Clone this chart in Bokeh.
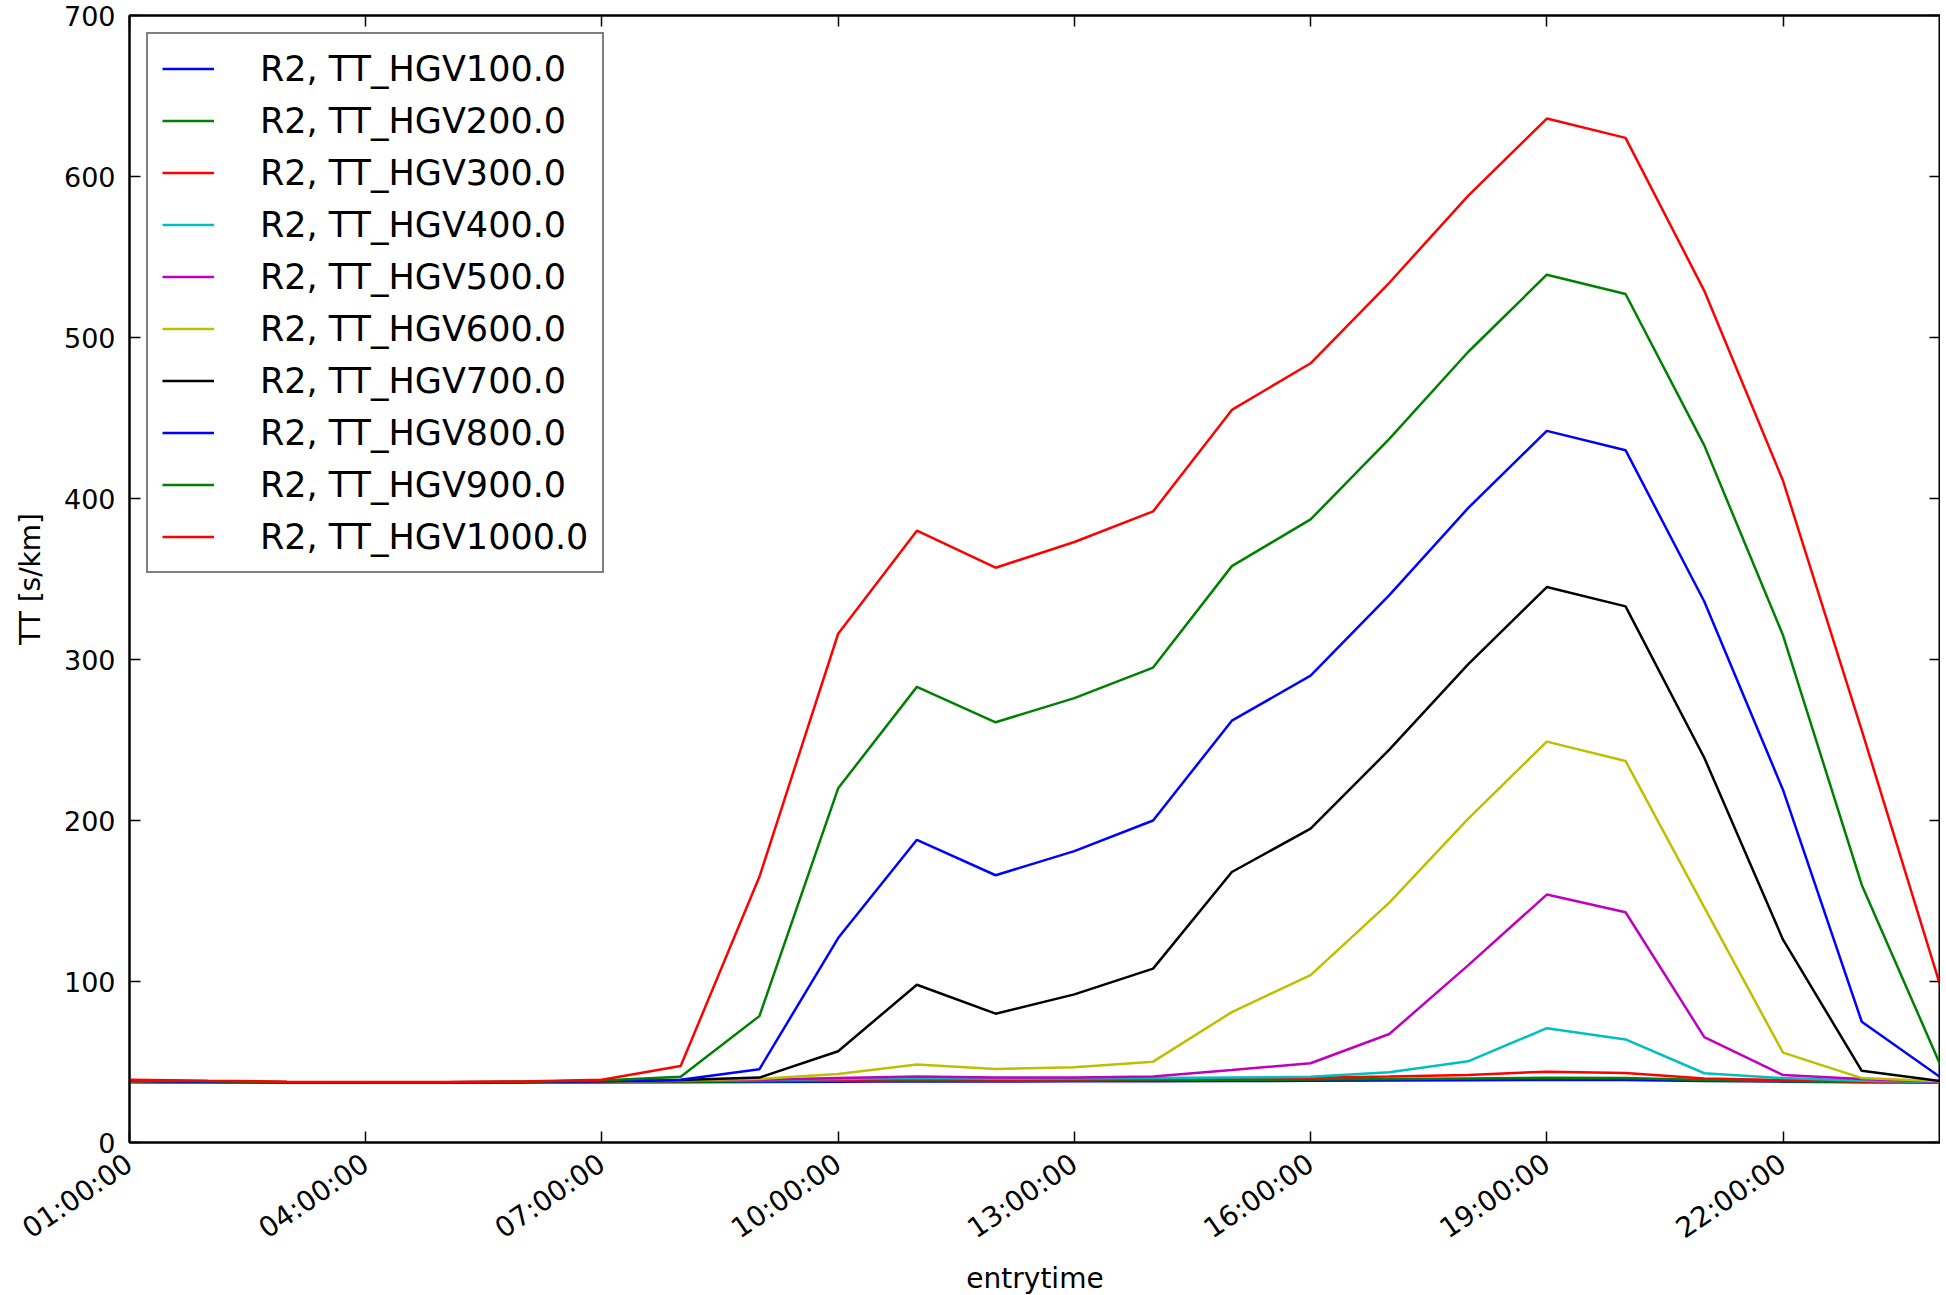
import math
from bokeh.plotting import figure
from bokeh.models import Legend, LegendItem, LinearAxis, FixedTicker, Range1d
from bokeh.embed import file_html
from bokeh.resources import INLINE

# ---- data ----
hours = list(range(1, 25))  # 01:00:00 ... 00:00:00 (next day)
tick_hours = [1, 4, 7, 10, 13, 16, 19, 22]
tick_labels = ["01:00:00", "04:00:00", "07:00:00", "10:00:00",
               "13:00:00", "16:00:00", "19:00:00", "22:00:00"]
y_ticks = [0, 100, 200, 300, 400, 500, 600, 700]

hgv100 = [37.5, 37.4, 37.3, 37.3, 37.3, 37.3, 37.4, 37.5, 37.6, 37.8, 38.0, 37.9,
          38.0, 38.0, 38.2, 38.3, 38.5, 38.7, 38.8, 38.8, 38.2, 37.8, 37.5, 37.3]
hgv200 = [37.6, 37.4, 37.3, 37.3, 37.3, 37.3, 37.5, 37.8, 38.0, 38.3, 38.6, 38.4,
          38.5, 38.6, 38.9, 39.1, 39.4, 39.8, 40.2, 40.0, 38.8, 38.0, 37.6, 37.4]
hgv300 = [37.8, 37.5, 37.3, 37.3, 37.3, 37.4, 37.7, 38.2, 38.6, 39.0, 39.4, 39.1,
          39.3, 39.5, 39.8, 40.2, 41.0, 42.0, 44.0, 43.2, 39.8, 38.8, 37.9, 37.5]
hgv400 = [37.9, 37.6, 37.4, 37.3, 37.3, 37.4, 37.8, 38.4, 38.8, 39.4, 40.0, 39.6,
          39.8, 40.0, 40.4, 40.8, 43.6, 50.4, 71.0, 64.0, 43.0, 40.0, 38.3, 37.6]
hgv500 = [38.0, 37.6, 37.4, 37.3, 37.3, 37.4, 37.9, 38.6, 39.0, 40.0, 41.0, 40.3,
          40.3, 41.0, 45.0, 49.2, 67.4, 110.0, 154.0, 143.0, 65.5, 41.9, 39.4, 37.8]
hgv600 = [38.1, 37.7, 37.4, 37.3, 37.3, 37.5, 38.0, 38.8, 39.5, 42.5, 48.4, 45.6,
          46.8, 50.2, 81.0, 104.0, 149.0, 201.0, 249.0, 237.0, 146.0, 55.8, 40.0, 38.0]
hgv700 = [38.2, 37.7, 37.4, 37.3, 37.3, 37.5, 38.1, 38.8, 40.3, 56.7, 98.0, 80.0,
          92.0, 108.0, 168.0, 195.0, 244.0, 297.0, 345.0, 333.0, 239.0, 126.0, 44.5, 38.2]
hgv800 = [38.3, 37.8, 37.5, 37.4, 37.4, 37.6, 38.2, 39.0, 45.5, 127.0, 188.0, 166.0,
          181.0, 200.0, 262.0, 290.0, 340.0, 394.0, 442.0, 430.0, 336.0, 219.0, 75.0, 40.5]
hgv900 = [38.5, 38.0, 37.6, 37.5, 37.5, 37.7, 38.5, 40.8, 78.5, 220.0, 283.0, 261.0,
          276.0, 295.0, 358.0, 387.0, 437.0, 491.0, 539.0, 527.0, 433.0, 315.0, 160.0, 48.0]
hgv1000 = [39.0, 38.3, 37.8, 37.6, 37.6, 37.9, 39.0, 47.5, 165.0, 316.0, 380.0, 357.0,
           373.0, 392.0, 455.0, 484.0, 534.0, 588.0, 636.0, 624.0, 529.0, 411.0, 256.0, 97.0]

series_names = ["R2, TT_HGV100.0", "R2, TT_HGV200.0", "R2, TT_HGV300.0", "R2, TT_HGV400.0",
                "R2, TT_HGV500.0", "R2, TT_HGV600.0", "R2, TT_HGV700.0", "R2, TT_HGV800.0",
                "R2, TT_HGV900.0", "R2, TT_HGV1000.0"]
series_values = [hgv100, hgv200, hgv300, hgv400, hgv500, hgv600, hgv700, hgv800, hgv900, hgv1000]
series_colors = ["#0000ff", "#008000", "#ff0000", "#00bfbf", "#bf00bf",
                 "#bfbf00", "#000000", "#0000ff", "#008000", "#ff0000"]

FONT = "DejaVu Sans"

p = figure(frame_width=1811, frame_height=1127,
           x_range=Range1d(1, 24), y_range=Range1d(0, 700),
           output_backend="svg", toolbar_location=None,
           min_border_left=129, min_border_top=15, min_border_right=0, min_border_bottom=5,
           background_fill_color="white", border_fill_color="white")

p.outline_line_color = "black"
p.outline_line_width = 2
p.xgrid.visible = False
p.ygrid.visible = False

items = []
for name, vals, col in zip(series_names, series_values, series_colors):
    r = p.line(hours, vals, line_color=col, line_width=2.5)
    items.append(LegendItem(label=name, renderers=[r]))

# axes
xa = p.xaxis[0]
xa.ticker = FixedTicker(ticks=tick_hours)
xa.major_label_overrides = {h: lab for h, lab in zip(tick_hours, tick_labels)}
xa.major_label_orientation = 0.6
xa.axis_label = "entrytime"
ya = p.yaxis[0]
ya.ticker = FixedTicker(ticks=y_ticks)
ya.axis_label = "TT [s/km]"

for ax in (xa, ya):
    ax.major_tick_in = 11
    ax.major_tick_out = 0
    ax.minor_tick_in = 0
    ax.minor_tick_out = 0
    ax.major_tick_line_color = "black"
    ax.major_tick_line_width = 1.5
    ax.axis_line_color = "black"
    ax.axis_line_width = 2
    ax.major_label_text_font = FONT
    ax.major_label_text_font_size = "27px"
    ax.major_label_text_color = "black"
    ax.axis_label_text_font = FONT
    ax.axis_label_text_font_size = "28px"
    ax.axis_label_text_font_style = "normal"
    ax.axis_label_text_color = "black"

xa.major_label_text_font_size = "28px"
xa.major_label_standoff = 18
xa.axis_label_standoff = 0
ya.major_label_standoff = 14
ya.axis_label_standoff = 14

# mirrored ticks on top and right
top = LinearAxis(ticker=FixedTicker(ticks=tick_hours))
right = LinearAxis(ticker=FixedTicker(ticks=y_ticks))
for ax in (top, right):
    ax.major_tick_in = 11
    ax.major_tick_out = 0
    ax.minor_tick_in = 0
    ax.minor_tick_out = 0
    ax.major_tick_line_color = "black"
    ax.major_tick_line_width = 1.5
    ax.axis_line_color = "black"
    ax.axis_line_width = 2
    ax.major_label_text_font_size = "0px"
    ax.major_label_standoff = 0
    ax.major_label_text_color = None
p.add_layout(top, "above")
p.add_layout(right, "right")

legend = Legend(items=items, location="top_left")
legend.margin = 17
legend.padding = 14
legend.spacing = 11
legend.glyph_width = 52
legend.glyph_height = 41
legend.label_height = 41
legend.label_standoff = 46
legend.label_text_font = FONT
legend.label_text_font_size = "35px"
legend.label_text_color = "black"
legend.border_line_color = "black"
legend.border_line_width = 2
legend.background_fill_color = "white"
legend.background_fill_alpha = 1.0
p.add_layout(legend)

open("out.html", "w").write(file_html(p, INLINE))
